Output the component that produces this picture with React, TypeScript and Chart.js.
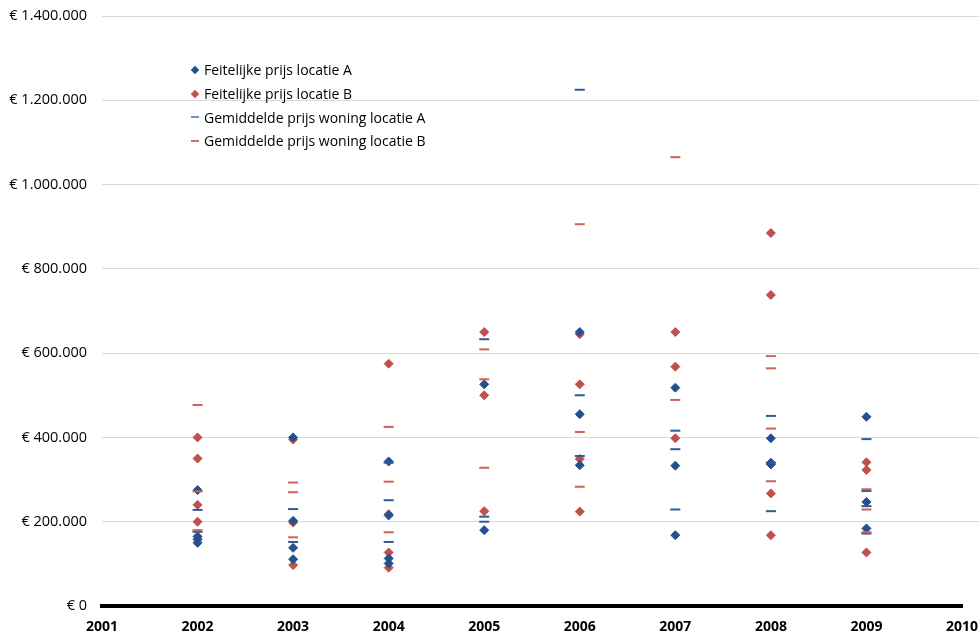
import React, { useEffect, useRef } from "react";
import { Chart, registerables } from "chart.js";

Chart.register(...registerables);

// [year, price]
const actualA: [number, number][] = [
  [2002, 275000], [2002, 165000], [2002, 158000], [2002, 150000],
  [2003, 400000], [2003, 202000], [2003, 138000], [2003, 111000],
  [2004, 343000], [2004, 215000], [2004, 113000], [2004, 101000],
  [2005, 526000], [2005, 180000],
  [2006, 650000], [2006, 455000], [2006, 334000],
  [2007, 518000], [2007, 333000], [2007, 168000],
  [2008, 398000], [2008, 340000], [2008, 336000],
  [2009, 449000], [2009, 247000], [2009, 184000],
];

const actualB: [number, number][] = [
  [2002, 400000], [2002, 350000], [2002, 240000], [2002, 200000],
  [2003, 395000], [2003, 198000], [2003, 97000],
  [2004, 575000], [2004, 218000], [2004, 127000], [2004, 91000],
  [2005, 650000], [2005, 500000], [2005, 225000],
  [2006, 645000], [2006, 526000], [2006, 349000], [2006, 224000],
  [2007, 650000], [2007, 568000], [2007, 398000],
  [2008, 885000], [2008, 738000], [2008, 267000], [2008, 168000],
  [2009, 341000], [2009, 323000], [2009, 127000],
];

const averageA: [number, number][] = [
  [2002, 228000], [2002, 176000],
  [2003, 230000], [2003, 152000],
  [2004, 340000], [2004, 251000], [2004, 152000],
  [2005, 633000], [2005, 212000], [2005, 200000],
  [2006, 1225000], [2006, 500000], [2006, 356000],
  [2007, 416000], [2007, 372000], [2007, 229000],
  [2008, 451000], [2008, 340000], [2008, 225000],
  [2009, 396000], [2009, 273000], [2009, 237000], [2009, 172000],
];

const averageB: [number, number][] = [
  [2002, 477000], [2002, 272000], [2002, 180000],
  [2003, 293000], [2003, 270000], [2003, 163000],
  [2004, 425000], [2004, 295000], [2004, 175000],
  [2005, 609000], [2005, 538000], [2005, 328000],
  [2006, 906000], [2006, 413000], [2006, 283000],
  [2007, 1065000], [2007, 489000],
  [2008, 593000], [2008, 564000], [2008, 421000], [2008, 296000],
  [2009, 277000], [2009, 229000], [2009, 175000],
];

const seriesLabels = [
  "Feitelijke prijs locatie A",
  "Feitelijke prijs locatie B",
  "Gemiddelde prijs woning locatie A",
  "Gemiddelde prijs woning locatie B",
];

const X_MIN = 2001;
const X_MAX = 2010;
const Y_MAX = 1400000;
const Y_STEP = 200000;

const BLUE = "#23508E";
const RED = "#C0504D";
const BLUE_DASH = "#2E5A96";
const RED_DASH = "#D0605C";
const LEGEND_BLUE_DASH = "#6F93C6";
const LEGEND_RED_DASH = "#D46A66";
const GRID = "#D9D9D9";

const FONT = '"Open Sans", "DejaVu Sans", sans-serif';

function euro(v: number): string {
  if (v === 0) return "€ 0";
  return "€ " + String(v).replace(/\B(?=(\d{3})+(?!\d))/g, ".");
}

const toPts = (arr: [number, number][]) => arr.map(([x, y]) => ({ x, y }));

// extends the horizontal gridlines to the right edge of the canvas
const extendGrid = {
  id: "extendGrid",
  beforeDatasetsDraw(chart: any) {
    const { ctx, chartArea, scales } = chart;
    const y = scales.y;
    ctx.save();
    ctx.strokeStyle = GRID;
    ctx.lineWidth = 1;
    y.ticks.forEach((t: any) => {
      if (t.value === 0) return;
      const p = y.getPixelForValue(t.value);
      const py = Math.round(p - 0.5) + 0.5;
      ctx.beginPath();
      ctx.moveTo(chartArea.right, py);
      ctx.lineTo(chart.width, py);
      ctx.stroke();
    });
    ctx.restore();
  },
};

export default function App() {
  const ref = useRef<HTMLCanvasElement>(null);

  useEffect(() => {
    if (!ref.current) return;
    const chart = new Chart(ref.current, {
      type: "scatter",
      data: {
        datasets: [
          {
            label: seriesLabels[0],
            data: toPts(actualA),
            pointStyle: "rectRot",
            pointRadius: 4.5,
            backgroundColor: BLUE,
            borderColor: BLUE,
            borderWidth: 1,
            order: 2,
          },
          {
            label: seriesLabels[1],
            data: toPts(actualB),
            pointStyle: "rectRot",
            pointRadius: 4.5,
            backgroundColor: RED,
            borderColor: RED,
            borderWidth: 1,
            order: 3,
          },
          {
            label: seriesLabels[2],
            data: toPts(averageA),
            pointStyle: "line",
            pointRadius: 5,
            backgroundColor: BLUE_DASH,
            borderColor: BLUE_DASH,
            borderWidth: 2,
            order: 1,
          },
          {
            label: seriesLabels[3],
            data: toPts(averageB),
            pointStyle: "line",
            pointRadius: 5,
            backgroundColor: RED_DASH,
            borderColor: RED_DASH,
            borderWidth: 2,
            order: 0,
          },
        ],
      },
      options: {
        animation: false,
        responsive: false,
        maintainAspectRatio: false,
        layout: { padding: { top: 16, right: 17, left: 0, bottom: 0 } },
        plugins: {
          legend: { display: false },
          tooltip: { enabled: false },
        },
        scales: {
          x: {
            type: "linear",
            min: X_MIN,
            max: X_MAX,
            ticks: {
              stepSize: 1,
              callback: (v: any) => String(v),
              color: "#000",
              font: { family: FONT, size: 14, weight: "bold" },
              padding: 13,
              maxRotation: 0,
              autoSkip: false,
            },
            grid: { display: false, drawTicks: false },
            border: { color: "#000", width: 4 },
            afterFit: (s: any) => {
              s.height = 28;
              s.paddingLeft = 0;
              s.paddingRight = 0;
            },
          },
          y: {
            min: 0,
            max: Y_MAX,
            ticks: {
              stepSize: Y_STEP,
              callback: (v: any) => euro(Number(v)),
              color: "#000",
              font: { family: FONT, size: 14.5 },
              padding: 15,
            },
            grid: { color: GRID, drawTicks: false, lineWidth: 1 },
            border: { display: false },
            afterFit: (s: any) => {
              s.width = 102;
              s.paddingTop = 0;
              s.paddingBottom = 0;
            },
          },
        },
      },
      plugins: [extendGrid],
    } as any);
    return () => chart.destroy();
  }, []);

  const rows = [
    { label: seriesLabels[0], kind: "diamond", color: BLUE },
    { label: seriesLabels[1], kind: "diamond", color: RED },
    { label: seriesLabels[2], kind: "dash", color: LEGEND_BLUE_DASH },
    { label: seriesLabels[3], kind: "dash", color: LEGEND_RED_DASH },
  ];

  return (
    <div style={{ position: "fixed", left: 0, top: 0, width: 979, height: 634, background: "#fff" }}>
      <canvas ref={ref} width={979} height={634} style={{ display: "block", width: 979, height: 634 }} />
      <div style={{ position: "absolute", left: 189, top: 58, fontFamily: FONT, fontSize: 14, color: "#000" }}>
        {rows.map((r) => (
          <div key={r.label} style={{ display: "flex", alignItems: "center", height: 23.7, whiteSpace: "nowrap" }}>
            <span style={{ width: 12, display: "inline-flex", justifyContent: "center", alignItems: "center" }}>
              {r.kind === "diamond" ? (
                <span style={{ width: 6, height: 6, background: r.color, transform: "rotate(45deg)", display: "inline-block" }} />
              ) : (
                <span style={{ width: 8, height: 2, background: r.color, display: "inline-block" }} />
              )}
            </span>
            <span style={{ marginLeft: 3 }}>{r.label}</span>
          </div>
        ))}
      </div>
    </div>
  );
}
